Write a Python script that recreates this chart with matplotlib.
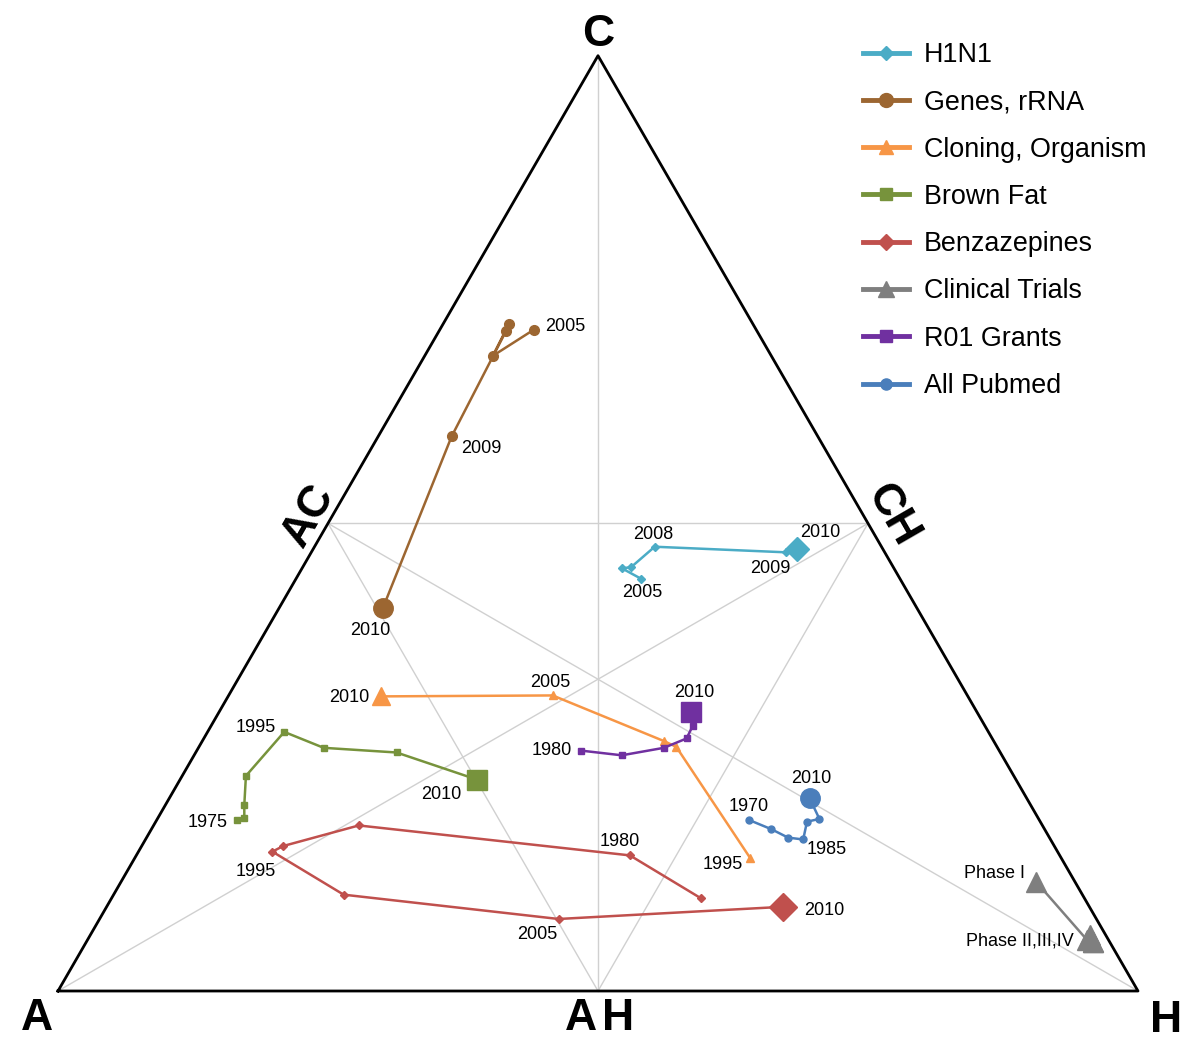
import numpy as np
import matplotlib
matplotlib.use('Agg')
import matplotlib.pyplot as plt
from matplotlib.lines import Line2D

plt.rcParams['font.family'] = ['Liberation Sans', 'DejaVu Sans']

# shares (%) of C and H per point, A is the rest
series_names = ['H1N1', 'Genes, rRNA', 'Cloning, Organism', 'Brown Fat',
                'Benzazepines', 'Clinical Trials', 'R01 Grants', 'All Pubmed']

h1n1_c = [44.1, 45.2, 45.3, 47.5, 46.9, 47.3]
h1n1_h = [31.9, 29.6, 30.4, 31.5, 44.0, 44.8]

genes_c = [70.7, 67.9, 71.3, 70.6, 59.3, 41.0]
genes_h = [8.7, 6.3, 6.1, 6.2, 6.8, 9.6]

cloning_c = [14.2, 26.1, 26.7, 31.6, 31.5]
cloning_h = [57.0, 44.2, 42.8, 30.0, 14.2]

fat_c = [18.3, 18.5, 19.9, 23.0, 27.7, 26.0, 25.5, 22.6]
fat_h = [7.4, 8.0, 7.3, 5.9, 7.1, 11.6, 18.6, 27.5]

benz_c = [9.9, 14.5, 17.7, 15.5, 14.9, 10.3, 7.7, 9.0]
benz_h = [54.6, 45.7, 19.0, 13.1, 12.4, 21.3, 42.5, 62.6]

trials_c = [11.7, 5.5, 6.0, 5.2]
trials_h = [84.7, 92.5, 92.6, 93.2]

r01_c = [25.7, 25.2, 26.0, 27.0, 28.3, 29.8]
r01_h = [35.6, 39.6, 43.1, 44.7, 44.6, 43.7]

pubmed_c = [18.3, 17.3, 16.4, 16.2, 18.1, 18.4, 20.6]
pubmed_h = [54.8, 57.4, 59.4, 60.9, 60.3, 61.3, 59.3]

# point labels: (point index, text)
h1n1_labels = [(0, '2005'), (3, '2008'), (4, '2009'), (5, '2010')]
genes_labels = [(0, '2005'), (4, '2009'), (5, '2010')]
cloning_labels = [(0, '1995'), (3, '2005'), (4, '2010')]
fat_labels = [(0, '1975'), (4, '1995'), (7, '2010')]
benz_labels = [(1, '1980'), (4, '1995'), (6, '2005'), (7, '2010')]
trials_labels = [(0, 'Phase I'), (1, 'Phase II,III,IV')]
r01_labels = [(0, '1980'), (5, '2010')]
pubmed_labels = [(0, '1970'), (3, '1985'), (6, '2010')]


def tern(c, h):
    c = np.asarray(c) / 100.0
    h = np.asarray(h) / 100.0
    return h + c / 2, c * np.sqrt(3) / 2


def main():
    fig = plt.figure(figsize=(12, 10.5), dpi=100)
    ax = fig.add_axes([0, 0, 1, 1])
    ax.set_xlim(-58 / 1080, 1142 / 1080)
    ax.set_ylim(-59 / 1080, 991 / 1080)
    ax.axis('off')

    A = np.array([0.0, 0.0])
    H = np.array([1.0, 0.0])
    C = np.array([0.5, np.sqrt(3) / 2])
    mac, mch, mah = (A + C) / 2, (C + H) / 2, (A + H) / 2

    grid = [(C, mah), (A, mch), (H, mac), (mac, mch), (mac, mah), (mch, mah)]
    for p, q in grid:
        ax.plot([p[0], q[0]], [p[1], q[1]], color='#d0d0d0', lw=1, zorder=1)
    tri = np.array([A, H, C, A])
    ax.plot(tri[:, 0], tri[:, 1], color='black', lw=2, zorder=2)

    vfont = dict(fontsize=32, fontweight='bold', ha='center', va='center')
    ax.annotate('C', C, xytext=(0, 21), textcoords='offset pixels', **vfont)
    ax.annotate('A', A, xytext=(-21, -27), textcoords='offset pixels', **vfont)
    ax.annotate('H', H, xytext=(28, -29), textcoords='offset pixels', **vfont)
    ax.annotate('A', mah, xytext=(-17, -27), textcoords='offset pixels', **vfont)
    ax.annotate('H', mah, xytext=(20, -27), textcoords='offset pixels', **vfont)
    ax.annotate('AC', mac, xytext=(-19, 8), textcoords='offset pixels', rotation=60, **vfont)
    ax.annotate('CH', mch, xytext=(24, 8), textcoords='offset pixels', rotation=-60, **vfont)

    # name, c, h, color, marker, small size, end size, legend size, labels with offsets
    specs = [
        ('H1N1', h1n1_c, h1n1_h, '#4bacc6', 'D', 4, 12, 7, h1n1_labels,
         [(2, -14, 'center'), (-1, 12, 'center'), (-16, -16, 'center'), (3, 16, 'left')]),
        ('Genes, rRNA', genes_c, genes_h, '#9c6631', 'o', 7, 14, 10, genes_labels,
         [(11, 3, 'left'), (9, -12, 'left'), (-13, -23, 'center')]),
        ('Cloning, Organism', cloning_c, cloning_h, '#f79646', '^', 6, 13, 10, cloning_labels,
         [(-7, -6, 'right'), (-2, 13, 'center'), (-12, -1, 'right')]),
        ('Brown Fat', fat_c, fat_h, '#77933c', 's', 5, 15, 8, fat_labels,
         [(-9, -3, 'right'), (-8, 4, 'right'), (-16, -15, 'right')]),
        ('Benzazepines', benz_c, benz_h, '#c0504d', 'D', 4, 14, 8, benz_labels,
         [(-10, 14, 'center'), (-17, -20, 'center'), (-21, -16, 'center'), (21, -4, 'left')]),
        ('Clinical Trials', trials_c, trials_h, '#7f7f7f', '^', 14, 14, 12, trials_labels,
         [(-11, 8, 'right'), (-13, -1, 'right')]),
        ('R01 Grants', r01_c, r01_h, '#7030a0', 's', 5, 14, 8, r01_labels,
         [(-9, 0, 'right'), (3, 20, 'center')]),
        ('All Pubmed', pubmed_c, pubmed_h, '#4a7ebb', 'o', 5, 14, 8, pubmed_labels,
         [(0, 13, 'center'), (23, -10, 'center'), (2, 20, 'center')]),
    ]

    handles = []
    for name, cs, hs, col, mk, ms, ms_end, ms_leg, labels, offs in specs:
        x, y = tern(cs, hs)
        ax.plot(x, y, color=col, lw=1.8, marker=mk, ms=ms, mec=col, mfc=col, zorder=3)
        ax.plot(x[-1:], y[-1:], ls='none', marker=mk, ms=ms_end, mec=col, mfc=col, zorder=4)
        for (i, txt), (dx, dy, ha) in zip(labels, offs):
            ax.annotate(txt, (x[i], y[i]), xytext=(dx, dy), textcoords='offset pixels',
                        ha=ha, va='center', fontsize=13, zorder=5)
        handles.append(Line2D([], [], color=col, lw=3.5, marker=mk, ms=ms_leg,
                              mec=col, mfc=col))

    fig.legend(handles, series_names, loc='upper left',
               bbox_to_anchor=(863 / 1200, 1 - 42 / 1050), frameon=False,
               fontsize=19.4, handlelength=1.72, handletextpad=0.55,
               labelspacing=0.79, borderpad=0, borderaxespad=0)

    fig.savefig('out.png', dpi=100)


if __name__ == '__main__':
    main()
